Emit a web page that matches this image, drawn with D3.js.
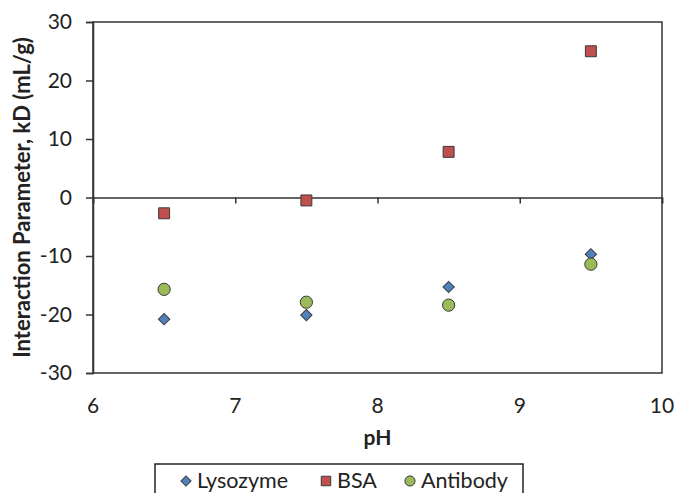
<!DOCTYPE html>
<html lang="en">
<head>
  <meta charset="UTF-8"/>
  <title>Interaction Parameter vs pH</title>
  <script src="https://d3js.org/d3.v7.min.js"></script>
  <style>
    body { margin: 0; background: #fff; }
    text { font-family: Lato, "Open Sans", sans-serif; fill: #222; }
  </style>
</head>
<body>
<script>

var w = 676;
var h = 493;

var phValues = [6.5, 7.5, 8.5, 9.5];
var lysozyme = [-20.8, -20.1, -15.3, -9.7];
var bsa      = [-2.7, -0.5, 7.8, 25.0];
var antibody = [-15.7, -17.9, -18.4, -11.4];
var xTicks = [6, 7, 8, 9, 10];
var yTicks = [-30, -20, -10, 0, 10, 20, 30];
var seriesNames = ["Lysozyme", "BSA", "Antibody"];

// diamond = square turned 45 degrees
var series = [
  { name: seriesNames[0], values: lysozyme, color: "#4f81bd", shape: d3.symbolSquare, size: 64,  rot: 45, legSize: 52 },
  { name: seriesNames[1], values: bsa,      color: "#c0504d", shape: d3.symbolSquare, size: 120, rot: 0,  legSize: 90 },
  { name: seriesNames[2], values: antibody, color: "#9bbb59", shape: d3.symbolCircle, size: 118, rot: 0,  legSize: 80 }
];

var plotLeft = 93, plotRight = 662, plotTop = 22, plotBottom = 373;

var x = d3.scaleLinear().domain([6, 10]).range([plotLeft, plotRight]);
var y = d3.scaleLinear().domain([-30, 30]).range([plotBottom, plotTop]);

var svg = d3.select("body")
            .append("svg")
            .attr("width", w)
            .attr("height", h);

// plot frame
svg.append("rect")
   .attr("x", plotLeft).attr("y", plotTop)
   .attr("width", plotRight - plotLeft).attr("height", plotBottom - plotTop)
   .attr("fill", "none")
   .attr("stroke", "#333")
   .attr("stroke-width", 1.5);

// y axis (ticks + labels)
var yAxis = d3.axisLeft(y).tickValues(yTicks).tickSize(7).tickPadding(14).tickFormat(d3.format("d"));
var gy = svg.append("g").attr("transform", "translate(" + plotLeft + ",0)").call(yAxis);
gy.select(".domain").attr("stroke", "#333").attr("stroke-width", 1.5);
gy.selectAll(".tick line").attr("stroke", "#333").attr("stroke-width", 1.5);
gy.selectAll(".tick text").style("font-size", "21px").attr("fill", "#222")
  .attr("font-family", null)
  .text(function(d) { return d < 0 ? "-" + Math.abs(d) : d; });

// x axis line sits on y = 0, ticks pointing down
var xAxis = d3.axisBottom(x).tickValues(xTicks).tickSize(6).tickFormat("");
var gx = svg.append("g").attr("transform", "translate(0," + y(0) + ")").call(xAxis);
gx.select(".domain").attr("stroke", "#333").attr("stroke-width", 1.5);
gx.selectAll(".tick line").attr("stroke", "#333").attr("stroke-width", 1.5);

// x tick labels at the bottom of the chart
svg.append("g").selectAll("text")
   .data(xTicks)
   .enter()
   .append("text")
   .attr("x", function(d) { return x(d); })
   .attr("y", 413)
   .attr("text-anchor", "middle")
   .style("font-size", "21px")
   .text(function(d) { return d; });

// axis titles
svg.append("text")
   .attr("x", x(8)).attr("y", 445)
   .attr("text-anchor", "middle")
   .style("font-size", "21px").style("font-weight", "bold")
   .text("pH");

svg.append("text")
   .attr("transform", "translate(30," + ((plotTop + plotBottom) / 2) + ") rotate(-90)")
   .attr("text-anchor", "middle")
   .style("font-size", "22px").style("font-weight", "bold")
   .text("Interaction Parameter, kD (mL/g)");

// points
series.forEach(function(s) {
  svg.append("g").selectAll("path")
     .data(s.values)
     .enter()
     .append("path")
     .attr("d", d3.symbol().type(s.shape).size(s.size))
     .attr("transform", function(d, i) {
       return "translate(" + x(phValues[i]) + "," + y(d) + ") rotate(" + s.rot + ")";
     })
     .attr("fill", s.color)
     .attr("stroke", "#3a3a3a")
     .attr("stroke-width", 1);
});

// legend
var legend = svg.append("g");
legend.append("rect")
      .attr("x", 155).attr("y", 464)
      .attr("width", 368).attr("height", 40)
      .attr("fill", "#fff")
      .attr("stroke", "#222")
      .attr("stroke-width", 1.5);

var legendX = [186, 326, 410];
series.forEach(function(s, i) {
  legend.append("path")
        .attr("d", d3.symbol().type(s.shape).size(s.legSize))
        .attr("transform", "translate(" + legendX[i] + ",481) rotate(" + s.rot + ")")
        .attr("fill", s.color)
        .attr("stroke", "#3a3a3a")
        .attr("stroke-width", 1);
  legend.append("text")
        .attr("x", legendX[i] + 11)
        .attr("y", 488)
        .style("font-size", "21.5px")
        .text(s.name);
});

</script>
</body>
</html>
